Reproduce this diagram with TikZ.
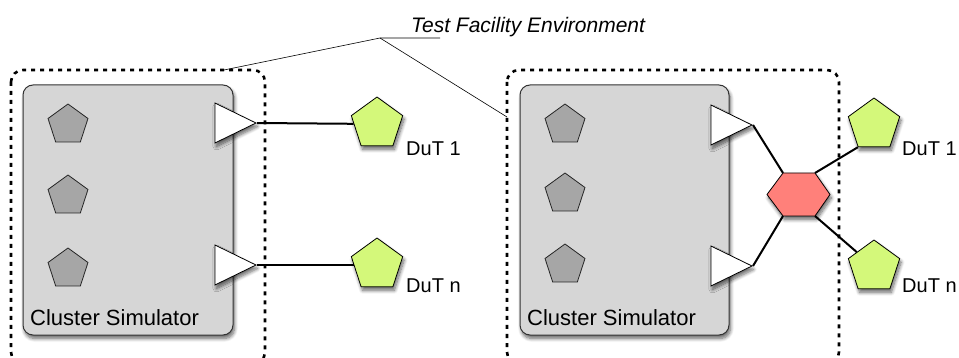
\documentclass[tikz,border=0pt]{standalone}
\usepackage{fontspec}
\setmainfont{Liberation Sans}
\usetikzlibrary{shapes.geometric,shadows.blur}

\definecolor{panelgrey}{RGB}{214,214,214}
\definecolor{unitgrey}{RGB}{166,166,166}
\definecolor{dutgreen}{RGB}{212,248,122}
\definecolor{hubred}{RGB}{255,128,122}

\begin{document}
\begin{tikzpicture}[x=1pt,y=-1pt,
  softshadow/.style={blur shadow={shadow xshift=1.5pt, shadow yshift=-3.5pt, shadow blur radius=3.5pt, shadow blur steps=8, shadow opacity=60}},
  envbox/.style={line width=2.6pt, dash pattern=on 4pt off 5pt, rounded corners=12pt},
  simbox/.style={draw=black!80, line width=1pt, fill=panelgrey, rounded corners=10pt, softshadow},
  unit/.style={regular polygon, regular polygon sides=5, minimum size=42pt, inner sep=0pt, draw=black!85, line width=0.8pt, fill=unitgrey},
  dut/.style={regular polygon, regular polygon sides=5, minimum size=54pt, inner sep=0pt, draw=black, line width=0.8pt, fill=dutgreen, softshadow},
  port/.style={isosceles triangle, isosceles triangle stretches, minimum width=40pt, minimum height=41pt, inner sep=0pt, draw=black, line width=0.8pt, fill=white, softshadow, anchor=apex},
  hub/.style={draw=black, line width=0.8pt, fill=hubred, softshadow},
  wire/.style={line width=2pt},
  leader/.style={line width=0.6pt},
  lbl/.style={font=\fontsize{20}{24}\selectfont, inner sep=0pt, anchor=base west},
  simlbl/.style={font=\fontsize{22}{26}\selectfont, inner sep=0pt, anchor=base west},
]
\useasboundingbox (0,0) rectangle (959,358);
\clip (0,0) rectangle (959,358);

% test facility environments (dotted outlines)
\draw[envbox] (11,70) rectangle (265,364);
\draw[envbox] (507,70) rectangle (839,364);

% callout for the environments
\node[lbl, font=\fontsize{21}{25}\selectfont\itshape] (title) at (411,33) {Test Facility Environment};
\coordinate (ulend) at (440,38);
\coordinate (elbow) at (380,38);
\coordinate (tailL) at (224,70);
\coordinate (tailR) at (507,117);
\draw[leader] (ulend) -- (elbow) -- (tailL);
\draw[leader] (elbow) -- (tailR);

% ---------- left setup: direct connection ----------
\draw[simbox] (23,85) rectangle (233,335);
\node[unit] (ua1) at (68,125) {};
\node[unit] (ua2) at (68,196) {};
\node[unit] (ua3) at (68,269) {};
\node[simlbl] (simA) at (30,325) {Cluster Simulator};

\node[port] (pa1) at (257,123) {};
\node[port] (pa2) at (257,265) {};

\node[dut] (da1) at (377,124) {};
\node[dut] (da2) at (377,265) {};
\node[lbl] (la1) at (406,156) {DuT 1};
\node[lbl] (la2) at (406,293) {DuT n};

\draw[wire] (pa1.apex) -- (da1);
\draw[wire] (pa2.apex) -- (da2);

% ---------- right setup: via hub ----------
\draw[simbox] (520,85) rectangle (729,335);
\node[unit] (ub1) at (565,125) {};
\node[unit] (ub2) at (565,194) {};
\node[unit] (ub3) at (565,265) {};
\node[simlbl] (simB) at (527,325) {Cluster Simulator};

\node[port] (pb1) at (753,125) {};
\node[port] (pb2) at (753,266) {};

\coordinate (hubW) at (767,194.5);
\coordinate (hubNW) at (783,173);
\coordinate (hubNE) at (815,173);
\coordinate (hubE) at (830,194.5);
\coordinate (hubSE) at (815,216);
\coordinate (hubSW) at (783,216);
\draw[hub] (hubW) -- (hubNW) -- (hubNE) -- (hubE) -- (hubSE) -- (hubSW) -- cycle;

\node[dut] (db1) at (874,125) {};
\node[dut] (db2) at (874,267) {};
\node[lbl] (lb1) at (902,156) {DuT 1};
\node[lbl] (lb2) at (902,293) {DuT n};

\draw[wire] (pb1.apex) -- (hubNW);
\draw[wire] (pb2.apex) -- (hubSW);
\draw[wire] (hubNE) -- (db1.corner 3);
\draw[wire] (hubSE) -- (db2);
\end{tikzpicture}
\end{document}
